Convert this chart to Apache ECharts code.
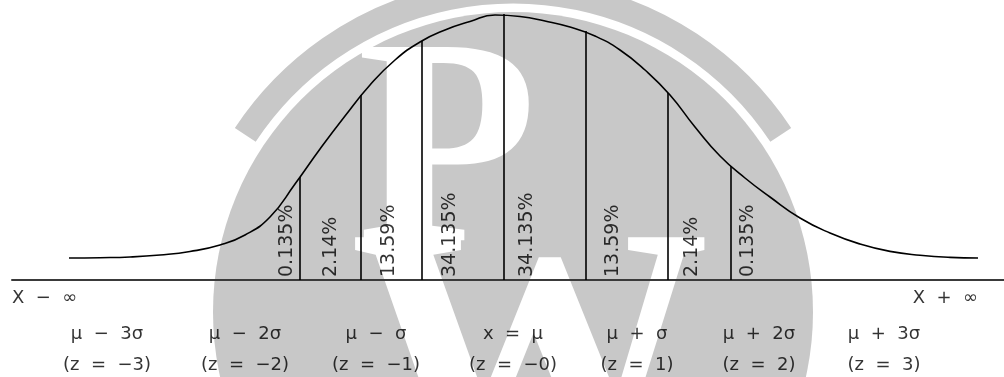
<!DOCTYPE html>
<html>
<head>
<meta charset="utf-8">
<script src="https://cdn.jsdelivr.net/npm/echarts@6/dist/echarts.min.js"></script>
<style>
html, body { margin: 0; padding: 0; background: #fff; }
#main { width: 1004px; height: 377px; }
</style>
</head>
<body>
<div id="main"></div>
<script>
// bell curve: position along the axis, height above the baseline
var curveX = [69, 100, 130, 160, 190, 220, 245, 270, 295, 320, 345, 370, 395, 420, 445, 470, 495, 520, 545, 570, 595, 620, 645, 670, 695, 720, 745, 770, 800, 830, 860, 890, 920, 950, 978];
var curveY = [22, 22.3, 23, 25, 28.5, 35, 45, 63, 96, 131, 164, 195, 220, 238, 250, 258.5, 265, 263.5, 259, 253, 244, 230, 210, 185, 153, 124, 102, 83, 62, 47, 36, 28.6, 24.7, 22.6, 22];

// vertical dividers (mu +/- k sigma) and where they meet the curve
var lineX = [300, 361, 422, 504, 586, 668, 731];
var lineTop = [103, 185, 239, 266, 249, 187, 114];

// area percentages, written upright inside the bands
var pctText = ['0.135%', '2.14%', '13.59%', '34.135%', '34.135%', '13.59%', '2.14%', '0.135%'];
var pctX = [287, 331, 389, 450, 527, 613, 692, 748];

// labels under the axis
var sigmaText = ['μ  −  3σ', 'μ  −  2σ', 'μ  −  σ', 'x  =  μ', 'μ  +  σ', 'μ  +  2σ', 'μ  +  3σ'];
var zText = ['(z  =  −3)', '(z  =  −2)', '(z  =  −1)', '(z  =  −0)', '(z  =  1)', '(z  =  2)', '(z  =  3)'];
var labelX = [107, 245, 376, 513, 637, 759, 884];
var endText = ['X  −  ∞', 'X  +  ∞'];
var endX = [12, 978];

var FONT = 'DejaVu Sans';
var GRAY = '#c8c8c8';

var myChart = echarts.init(document.getElementById('main'));

var curveData = curveX.map(function (x, i) { return [x, curveY[i]]; });
var dividers = lineX.map(function (x, i) {
    return [{ coord: [x, 0] }, { coord: [x, lineTop[i]] }];
});
var pctData = pctX.map(function (x, i) { return { value: [x, 3], name: pctText[i] }; });
var rowData = [];
labelX.forEach(function (x, i) {
    rowData.push({ value: [x, -54], name: sigmaText[i] });
    rowData.push({ value: [x, -85], name: zText[i] });
});
var endData = [
    { value: [endX[0], -18], name: endText[0], label: { align: 'left' } },
    { value: [endX[1], -18], name: endText[1], label: { align: 'right' } }
];

var option = {
    animation: false,
    // faint logo behind the chart
    graphic: [
        { type: 'circle', z: 0, silent: true, shape: { cx: 513, cy: 312, r: 300 }, style: { fill: GRAY } },
        { type: 'arc', z: 0, silent: true, shape: { cx: 513, cy: 312, r: 321, startAngle: 3.726, endAngle: 5.699, clockwise: true },
          style: { stroke: GRAY, lineWidth: 25, fill: null } },
        { type: 'text', z: 0, silent: true,
          style: { text: 'P', x: 447, y: 164, fill: '#fff', font: 'bold 295px "Liberation Serif"', align: 'center', verticalAlign: 'middle' } },
        { type: 'text', z: 0, silent: true,
          style: { text: 'W', x: 530, y: 380, fill: '#fff', font: 'bold 360px "Liberation Serif"', align: 'center', verticalAlign: 'middle' } }
    ],
    grid: { left: 12, right: 0, top: 0, bottom: 0 },
    xAxis: {
        type: 'value',
        min: 12,
        max: 1004,
        axisLine: { show: true, onZero: true, lineStyle: { color: '#3a3a3a', width: 2 } },
        axisTick: { show: false },
        axisLabel: { show: false },
        splitLine: { show: false }
    },
    yAxis: {
        type: 'value',
        min: -97,
        max: 280,
        show: false
    },
    series: [
        {
            name: 'curve',
            type: 'line',
            data: curveData,
            smooth: 0.5,
            showSymbol: false,
            silent: true,
            lineStyle: { color: '#000', width: 1.6 },
            markLine: {
                silent: true,
                symbol: 'none',
                label: { show: false },
                lineStyle: { color: '#000', width: 1.6, type: 'solid' },
                data: dividers
            }
        },
        {
            name: 'percent',
            type: 'scatter',
            data: pctData,
            symbolSize: 1,
            silent: true,
            itemStyle: { color: 'transparent' },
            label: {
                show: true,
                formatter: '{b}',
                position: 'inside',
                rotate: 90,
                align: 'left',
                verticalAlign: 'middle',
                fontFamily: FONT,
                fontSize: 19,
                color: '#000'
            }
        },
        {
            name: 'labels',
            type: 'scatter',
            data: rowData.concat(endData),
            symbolSize: 1,
            silent: true,
            clip: false,
            itemStyle: { color: 'transparent' },
            label: {
                show: true,
                formatter: '{b}',
                position: 'inside',
                align: 'center',
                verticalAlign: 'middle',
                fontFamily: FONT,
                fontSize: 18,
                color: '#000'
            }
        }
    ]
};

myChart.setOption(option);
</script>
</body>
</html>
